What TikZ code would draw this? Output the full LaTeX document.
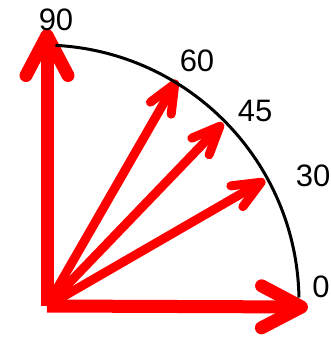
\documentclass[tikz,border=0pt]{standalone}
\usepackage{fontspec}
\setmainfont{Liberation Sans}
\usetikzlibrary{arrows.meta}
\begin{document}
\begin{tikzpicture}[x=1pt, y=1pt,
    bigvec/.style={draw=red, line width=13pt, -{Straight Barb[length=40pt, width=42pt, round]}},
    smallvec/.style={draw=red, line width=9pt, -{Straight Barb[length=28pt, width=24pt, round]}},
    anglabel/.style={font=\fontsize{31}{31}\selectfont, inner sep=0pt}]
    \useasboundingbox (0,0) rectangle (330,339);

    % origin and arrow tips
    \coordinate (o) at (47,33);
    \coordinate (t0) at (308,32);
    \coordinate (t30) at (265,159);
    \coordinate (t45) at (223,216);
    \coordinate (t60) at (177,259);
    \coordinate (t90) at (47,310);

    % the vectors
    \draw[smallvec] (o) -- (t30);
    \draw[smallvec] (o) -- (t45);
    \draw[smallvec] (o) -- (t60);
    \draw[bigvec] (o) -- (t90);
    \draw[bigvec] (o) -- (t0);

    % quarter circle on top
    \coordinate (c) at (42,37);
    \draw[line width=3pt] (c) ++(1:257pt) arc[start angle=1, end angle=87, radius=257pt];

    % angle labels
    \node[anglabel] (l90) at (56,319) {90};
    \node[anglabel] (l60) at (197,278) {60};
    \node[anglabel] (l45) at (255,228) {45};
    \node[anglabel] (l30) at (313,163) {30};
    \node[anglabel] (l0) at (321,52) {0};
\end{tikzpicture}
\end{document}
